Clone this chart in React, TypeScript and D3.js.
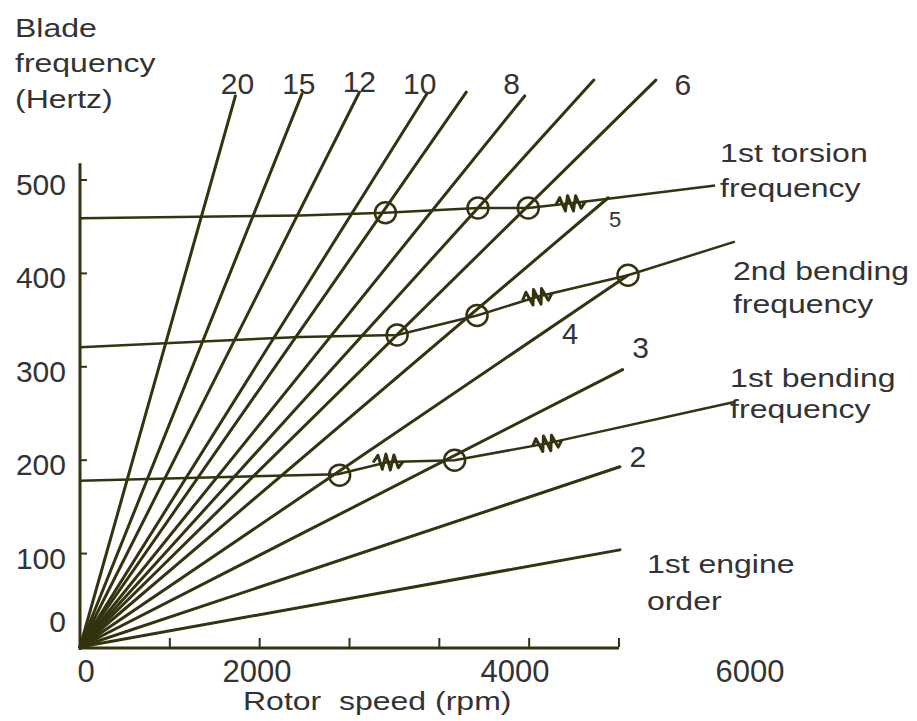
import React from 'react';
import * as d3 from 'd3';

const W = 917;
const H = 721;

// engine order lines, each runs from the origin to (endRpm, endHz)
const orders = [20, 15, 12, 10, 9, 8, 7, 6, 5, 4, 3, 2, 1];
const orderEndRpm = [1730, 2470, 3110, 3860, 4300, 4950, 5720, 6410, 5880, 6100, 6040, 6010, 6010];
const orderEndHz = [590, 592, 594, 592, 594, 590, 607, 607, 481, 398, 297, 193, 104];
const labelledOrders = [20, 15, 12, 10, 8, 6, 5, 4, 3, 2];

// blade natural frequencies (Hz) against rotor speed (rpm)
const torsionRpm = [0, 2450, 3400, 4430, 4990, 5460, 5880, 7070];
const torsionHz = [459, 462, 465, 470, 470, 475, 480, 494];
const bend2Rpm = [0, 2450, 3530, 4420, 5090, 6100, 7290];
const bend2Hz = [321, 332, 334, 355, 375, 398, 434];
const bend1Rpm = [0, 2870, 3430, 4170, 5200, 7270];
const bend1Hz = [178, 185, 198, 200, 218, 262];

// resonance crossings (circles) and the zigzag marks
const circleRpm = [3400, 4430, 4990, 3530, 4420, 6100, 2890, 4170];
const circleHz = [465, 470, 470, 334, 355, 398, 184, 200];
const zigRpm = [5460, 5090, 3430, 5200];
const zigHz = [475, 375, 198, 218];

const yTicks = [0, 100, 200, 300, 400, 500];
const xTicks = [0, 1000, 2000, 3000, 4000, 5000, 6000];
const xTickLabels = [0, 2000, 4000, 6000];

// label nudges (px) from the top of each order line
const orderLabelNudge: Record<number, [number, number, number]> = {
  20: [2, -2, 30], 15: [-3, 0, 30], 12: [0, 0, 30], 10: [-7, 0, 30], 8: [-13, -2, 30],
  6: [27, 15, 30], 5: [7, 29, 22], 4: [-58, 69, 29], 3: [18, -12, 30], 2: [18, 0, 30],
};

const INK = '#34330f';
const TEXT = '#333';
const FONT = '"Liberation Sans", Arial, sans-serif';

function Words({ x, y, lines, gap = 35, size = 25 }: { x: number; y: number; lines: string[]; gap?: number; size?: number }) {
  return (
    <g transform={`translate(${x},${y}) scale(1.28,1)`}>
      {lines.map((t, i) => (
        <text key={i} x={0} y={i * gap} fontSize={size} fill={TEXT} style={{ whiteSpace: 'pre' }}>{t}</text>
      ))}
    </g>
  );
}

export default function App() {
  const x = d3.scaleLinear().domain([0, 6000]).range([80, 619]);
  const y = d3.scaleLinear().domain([0, 500]).range([647, 180]);
  // the printed rpm labels sit off the tick marks in the original
  const xLab = d3.scaleLinear().domain([0, 2000, 4000, 6000]).range([86, 257, 515, 750]);

  const line = d3.line<[number, number]>().x(d => x(d[0])).y(d => y(d[1]));
  const curves = [
    d3.zip(torsionRpm, torsionHz) as [number, number][],
    d3.zip(bend2Rpm, bend2Hz) as [number, number][],
    d3.zip(bend1Rpm, bend1Hz) as [number, number][],
  ];

  const slopeAt = (rpm: number, hz: number) => {
    // direction of the curve nearest to this mark
    let best = curves[0], bd = Infinity;
    curves.forEach(c => {
      c.forEach(p => {
        const d = Math.abs(p[1] - hz) + Math.abs(p[0] - rpm) / 100;
        if (d < bd) { bd = d; best = c; }
      });
    });
    let i = best.findIndex(p => p[0] > rpm);
    if (i <= 0) i = best.length - 1;
    const a = best[i - 1], b = best[i];
    return Math.atan2(y(b[1]) - y(a[1]), x(b[0]) - x(a[0])) * 180 / Math.PI;
  };

  const zig = 'M-15,0 L-10,-7 L-6,7 L-2,-8 L2,8 L6,-7 L10,6 L15,0';

  const end = (o: number) => {
    const i = orders.indexOf(o);
    return [x(orderEndRpm[i]), y(orderEndHz[i])];
  };
  const tEnd = [x(torsionRpm[torsionRpm.length - 1]), y(torsionHz[torsionHz.length - 1])];
  const b2End = [x(bend2Rpm[bend2Rpm.length - 1]), y(bend2Hz[bend2Hz.length - 1])];
  const b1End = [x(bend1Rpm[bend1Rpm.length - 1]), y(bend1Hz[bend1Hz.length - 1])];
  const e1 = end(1);

  return (
    <svg width={W} height={H} style={{ position: 'absolute', left: 0, top: 0, background: '#fff' }} fontFamily={FONT}>
      {/* axis titles */}
      <Words x={15} y={37} lines={['Blade', 'frequency', '(Hertz)']} gap={35.5} />
      <Words x={243} y={710} lines={['Rotor  speed (rpm)']} />

      {/* axes */}
      <line x1={x(0)} x2={x(0)} y1={y(518)} y2={y(0) + 3} stroke={INK} strokeWidth={3} />
      <line x1={x(0) - 1} x2={x(6000)} y1={y(0) + 1} y2={y(0) + 1} stroke={INK} strokeWidth={3} />
      {xTicks.slice(1).map(t => (
        <line key={t} x1={x(t)} x2={x(t)} y1={y(0)} y2={y(0) - 9} stroke={INK} strokeWidth={2} />
      ))}
      {yTicks.slice(1).map(t => (
        <line key={t} x1={x(0)} x2={x(0) + 7} y1={y(t)} y2={y(t)} stroke={INK} strokeWidth={2} />
      ))}
      {yTicks.map(t => (
        <text key={t} x={66} y={t === 0 ? y(t) - 15 : y(t) + 15} fontSize={30} textAnchor="end" fill={TEXT}>{t}</text>
      ))}
      {xTickLabels.map(t => (
        <text key={t} x={xLab(t)} y={682} fontSize={31} textAnchor="middle" fill={TEXT}>{t}</text>
      ))}

      {/* engine order lines */}
      {orders.map((o, i) => (
        <line key={o} x1={x(0)} y1={y(0)} x2={x(orderEndRpm[i])} y2={y(orderEndHz[i])}
          stroke={INK} strokeWidth={3} strokeLinecap="round" />
      ))}
      {labelledOrders.map(o => {
        const [ex, ey] = end(o);
        const [dx, dy, fs] = orderLabelNudge[o];
        return (
          <text key={o} x={ex + dx} y={ey + dy} fontSize={fs} textAnchor="middle" fill={TEXT}>{o}</text>
        );
      })}

      {/* blade frequency curves */}
      {curves.map((c, i) => (
        <path key={i} d={line(c) || ''} fill="none" stroke={INK} strokeWidth={2.5} />
      ))}
      {circleRpm.map((r, i) => (
        <circle key={i} cx={x(r)} cy={y(circleHz[i])} r={10.5} fill="none" stroke={INK} strokeWidth={2.5} />
      ))}
      {zigRpm.map((r, i) => (
        <path key={i} d={zig} fill="none" stroke={INK} strokeWidth={3} strokeLinejoin="round"
          transform={`translate(${x(r)},${y(zigHz[i])}) rotate(${slopeAt(r, zigHz[i])})`} />
      ))}

      {/* curve annotations */}
      <Words x={tEnd[0] + 5} y={tEnd[1] - 24} lines={['1st torsion', 'frequency']} />
      <Words x={b2End[0] - 2} y={b2End[1] + 38} lines={['2nd bending', 'frequency']} gap={33} />
      <Words x={b1End[0] - 3} y={b1End[1] - 15} lines={['1st bending', 'frequency']} gap={31} />
      <Words x={e1[0] + 27} y={e1[1] + 23} lines={['1st engine', 'order']} gap={37} />
    </svg>
  );
}
